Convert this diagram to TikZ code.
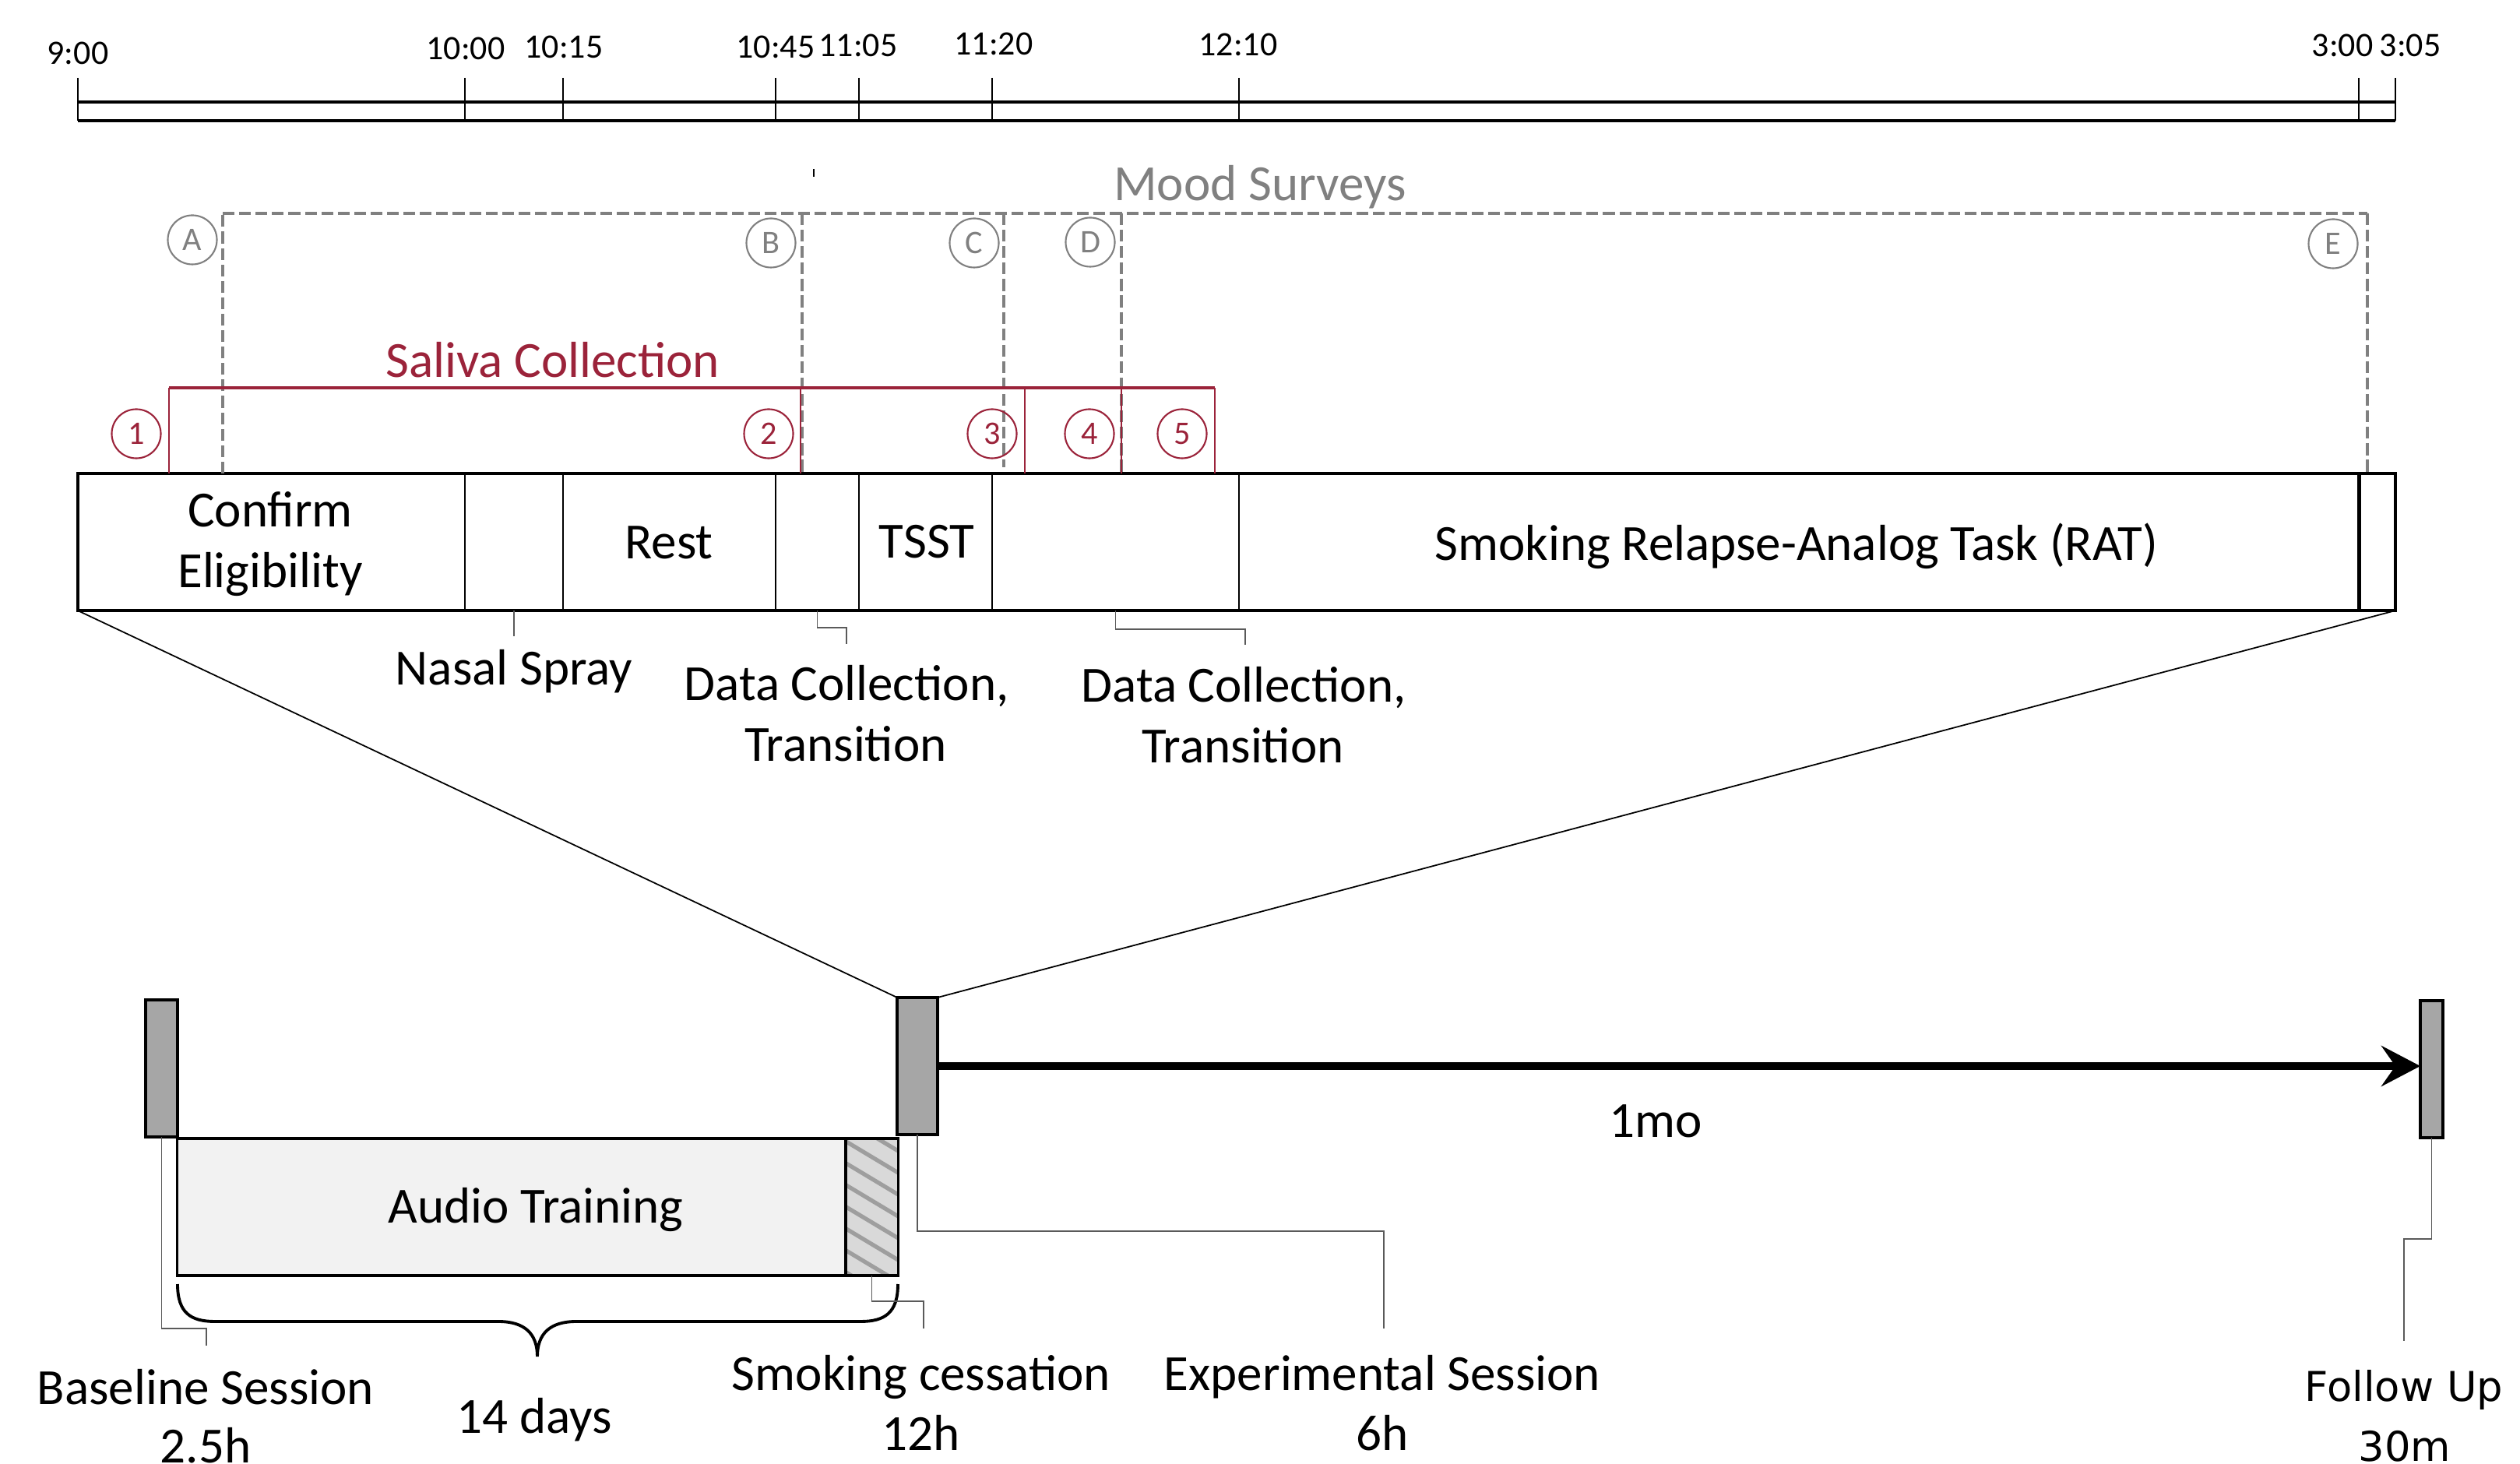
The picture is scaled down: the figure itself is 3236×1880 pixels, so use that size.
\documentclass[tikz,border=0pt]{standalone}
\usepackage{fontspec}
\setmainfont{Carlito}
\newfontfamily\fufont{DejaVu Sans}
\usetikzlibrary{arrows.meta}
\definecolor{salred}{RGB}{155,35,58}
\definecolor{moodgray}{RGB}{128,128,128}
\definecolor{blockgray}{RGB}{166,166,166}
\definecolor{audiofill}{RGB}{242,242,242}
\definecolor{hatchbg}{RGB}{217,217,217}
\definecolor{hatchln}{RGB}{158,158,158}
\definecolor{connc}{RGB}{90,90,90}
\begin{document}
\begin{tikzpicture}[x=0.01cm,y=-0.01cm,
  lbl/.style={inner sep=0pt,outer sep=0pt,anchor=base,font=\fontsize{18.5}{22}\selectfont},
  tlbl/.style={inner sep=0pt,outer sep=0pt,anchor=base,font=\fontsize{12.5}{15}\selectfont},
  fulbl/.style={inner sep=0pt,outer sep=0pt,anchor=base,font=\fufont\fontsize{15}{18}\selectfont},
  seg/.style={inner sep=0pt,outer sep=0pt,minimum height=1.76cm},
  barline/.style={line width=1.1pt},
  divline/.style={line width=0.7pt},
  tlline/.style={line width=1.1pt},
  tickline/.style={line width=0.6pt},
  moodline/.style={draw=moodgray,line width=1pt,dash pattern=on 4.3pt off 1.7pt},
  moodh/.style={draw=moodgray,line width=1.3pt,dash pattern=on 4.3pt off 1.7pt},
  moodc/.style={circle,draw=moodgray,line width=0.6pt,text=moodgray,minimum size=0.63cm,inner sep=0pt,font=\fontsize{12}{14}\selectfont},
  salc/.style={circle,draw=salred,line width=0.6pt,text=salred,minimum size=0.63cm,inner sep=0pt,font=\fontsize{12}{14}\selectfont},
  salh/.style={draw=salred,line width=1.3pt},
  salv/.style={draw=salred,line width=0.8pt},
  fanline/.style={line width=0.5pt},
  conn/.style={draw=connc,line width=0.5pt},
  sessblock/.style={draw,fill=blockgray,line width=0.9pt,inner sep=0pt,outer sep=0pt,minimum height=1.76cm},
  bigarrow/.style={line width=3.1pt,-{Stealth[length=0.5cm,width=0.52cm,inset=0.18cm]}},
  bracestyle/.style={line width=1.1pt}
]
\useasboundingbox (0,0) rectangle (3236,1880);

% ---------- top clock timeline ----------
\draw[tlline] (100,131) -- (3076,131);
\draw[tlline] (100,155) -- (3076,155);
\foreach \x in {100,597,723,996,1103,1274,1591,3029,3076}
  \draw[tickline] (\x,100) -- (\x,155);
\node[tlbl] (t900) at (100,83) {9:00};
\node[tlbl] (t1000) at (598,77) {10:00};
\node[tlbl] (t1015) at (724,75) {10:15};
\node[tlbl] (t1045) at (996,75) {10:45};
\node[tlbl] (t1105) at (1102,73) {11:05};
\node[tlbl] (t1120) at (1276,71) {11:20};
\node[tlbl] (t1210) at (1590,72) {12:10};
\node[tlbl] (t300) at (3008,73) {3:00};
\node[tlbl] (t305) at (3095,73) {3:05};

% small mark
\draw[line width=0.5pt] (1045,217) -- (1045,227);

% ---------- session bar ----------
\node[seg,minimum width=4.97cm] (s1) at (348.5,696) {};
\node[seg,minimum width=1.26cm] (s2) at (660,696) {};
\node[seg,minimum width=2.73cm] (s3) at (859.5,696) {};
\node[seg,minimum width=1.07cm] (s4) at (1049.5,696) {};
\node[seg,minimum width=1.71cm] (s5) at (1188.5,696) {};
\node[seg,minimum width=3.17cm] (s6) at (1432.5,696) {};
\node[seg,minimum width=14.38cm] (s7) at (2310,696) {};
\node[seg,minimum width=0.47cm] (s8) at (3052.5,696) {};
\foreach \s in {s1,s2,s3,s4,s5,s6}
  \draw[divline] (\s.north east) -- (\s.south east);
\draw[line width=1.2pt] (s7.north east) -- (s7.south east);
\draw[barline] (s1.north west) rectangle (s8.south east);

\node[lbl] (confirm) at (347,677) {Confirm};
\node[lbl] (elig) at (347,755) {Eligibility};
\node[lbl] (rest) at (859,718) {Rest};
\node[lbl] (tsst) at (1190,717) {TSST};
\node[lbl] (rat) at (2307,720) {Smoking Relapse-Analog Task (RAT)};

% labels below bar
\node[lbl] (nasal) at (660,880) {Nasal Spray};
\node[lbl] (dca) at (1087,900) {Data Collection,};
\node[lbl] (dcb) at (1086,978) {Transition};
\node[lbl] (dcc) at (1597,902) {Data Collection,};
\node[lbl] (dcd) at (1596,980) {Transition};
\coordinate (nasalend) at (660,817);
\draw[conn] (s2.south) -- (nasalend);
\coordinate (dc1a) at (1049.5,806);
\coordinate (dc1b) at (1087,806);
\coordinate (dc1c) at (1087,827);
\draw[conn] (s4.south) -- (dc1a) -- (dc1b) -- (dc1c);
\coordinate (dc2a) at (1432.5,808);
\coordinate (dc2b) at (1599,808);
\coordinate (dc2c) at (1599,828);
\draw[conn] (s6.south) -- (dc2a) -- (dc2b) -- (dc2c);

% ---------- mood surveys ----------
\node[lbl,text=moodgray] (mood) at (1618,258) {Mood Surveys};
\draw[moodline] (286,608) -- (286,274);
\draw[moodh] (286,274) -- (3040,274);
\draw[moodline] (3040,274) -- (3040,608);
\draw[moodline] (1030,274) -- (1030,608);
\draw[moodline] (1289,274) -- (1289,600);
\draw[moodline] (1440,274) -- (1440,608);
\node[moodc] (cA) at (247,308) {A};
\node[moodc] (cB) at (990,312) {B};
\node[moodc] (cC) at (1251,312) {C};
\node[moodc] (cD) at (1400,311) {D};
\node[moodc] (cE) at (2996,313) {E};

% ---------- saliva collection ----------
\node[lbl,text=salred] (saliva) at (710,485) {Saliva Collection};
\draw[salh] (217,498) -- (1560,498);
\foreach \x in {217,1028,1316,1440,1560}
  \draw[salv] (\x,498) -- (\x,608);
\node[salc] (n1) at (175,557) {1};
\node[salc] (n2) at (987,557) {2};
\node[salc] (n3) at (1274,557) {3};
\node[salc] (n4) at (1399,557) {4};
\node[salc] (n5) at (1518,557) {5};

% ---------- lower study timeline ----------
\node[sessblock,minimum width=0.41cm] (base) at (207.5,1372) {};
\node[sessblock,minimum width=0.52cm] (exp) at (1178,1369) {};
\node[sessblock,minimum width=0.29cm] (fup) at (3122.5,1373) {};

\draw[fanline] (s1.south west) -- (exp.north west);
\draw[fanline] (s8.south east) -- (exp.north east);

\draw[bigarrow] (exp.east) -- (exp.east -| fup.west);
\node[lbl] (mo) at (2126,1460) {1mo};

% audio training box
\node[draw,fill=audiofill,line width=0.9pt,inner sep=0pt,outer sep=0pt,minimum width=9.25cm,minimum height=1.76cm] (audio) at (690.5,1550) {};
\begin{scope}
  \clip (1086,1462) rectangle (1153,1638);
  \fill[hatchbg] (1086,1462) rectangle (1153,1638);
  \foreach \k in {-4,...,8}
    \draw[hatchln,line width=1.5pt] (1080,{1462+\k*28}) -- ++(80,48);
\end{scope}
\draw[line width=0.9pt] (1086,1462) -- (1086,1638);
\draw[line width=0.9pt] (audio.north west) rectangle (audio.south east);
\node[lbl] (audiotxt) at (688,1570) {Audio Training};

% brace
\draw[bracestyle] (228,1649) .. controls (228,1686) and (245,1697) .. (276,1697)
  -- (640,1697) .. controls (673,1697) and (690,1712) .. (690,1742)
  .. controls (690,1712) and (707,1697) .. (740,1697)
  -- (1105,1697) .. controls (1136,1697) and (1153,1686) .. (1153,1649);
\node[lbl] (days) at (686,1840) {14 days};

% session labels and connectors
\node[lbl] (basea) at (264,1803) {Baseline Session};
\node[lbl] (baseb) at (264,1878) {2.5h};
\coordinate (bc1) at (207.5,1706);
\coordinate (bc2) at (265,1706);
\coordinate (bc3) at (265,1728);
\draw[conn] (base.south) -- (bc1) -- (bc2) -- (bc3);

\coordinate (hatchbot) at (1119.5,1638);
\node[lbl] (smka) at (1183,1785) {Smoking cessation};
\node[lbl] (smkb) at (1183,1862) {12h};
\coordinate (sc1) at (1119.5,1671);
\coordinate (sc2) at (1186,1671);
\coordinate (sc3) at (1186,1706);
\draw[conn] (hatchbot) -- (sc1) -- (sc2) -- (sc3);

\node[lbl] (expa) at (1775,1785) {Experimental Session};
\node[lbl] (expb) at (1775,1862) {6h};
\coordinate (ec1) at (1178,1581);
\coordinate (ec2) at (1777,1581);
\coordinate (ec3) at (1777,1706);
\draw[conn] (exp.south) -- (ec1) -- (ec2) -- (ec3);

\node[fulbl] (fua) at (3087,1799) {Follow Up};
\node[fulbl] (fub) at (3088,1876) {30m};
\coordinate (fc1) at (3122.5,1591);
\coordinate (fc2) at (3087,1591);
\coordinate (fc3) at (3087,1722);
\draw[conn] (fup.south) -- (fc1) -- (fc2) -- (fc3);
\end{tikzpicture}
\end{document}
